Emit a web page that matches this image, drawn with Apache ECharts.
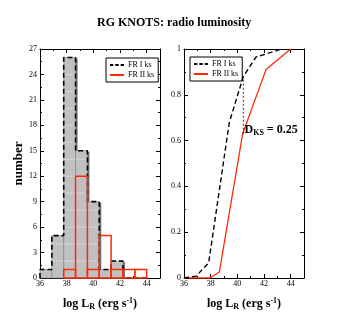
<!DOCTYPE html>
<html><head><meta charset="utf-8">
<script src="https://cdn.jsdelivr.net/npm/echarts@6/dist/echarts.min.js"></script>
<style>html,body{margin:0;padding:0;background:#fff}#c{width:343px;height:327px}</style>
</head><body><div id="c"></div>
<script>
// ---- data ----
const binEdges = [36, 36.889, 37.778, 38.667, 39.556, 40.444, 41.333, 42.222, 43.111, 44];
const fr1Counts = [1, 5, 26, 15, 9, 1, 2, 0, 0];
const fr2Counts = [0, 0, 1, 12, 1, 5, 1, 1, 1];
const fr1CdfX = [36, 36.9, 37.85, 39.4, 40.45, 41.4, 42.8, 43.3];
const fr1CdfY = [0, 0.008, 0.066, 0.68, 0.88, 0.965, 0.99, 1.0];
const fr2CdfX = [36, 37.95, 38.65, 40.4, 42.15, 44];
const fr2CdfY = [0, 0, 0.026, 0.63, 0.91, 1.0];
const ksX = [40.45, 40.45];
const ksY = [0.63, 0.88];
const xTicks = [36, 38, 40, 42, 44];
const leftYTicks = [0, 3, 6, 9, 12, 15, 18, 21, 24, 27];
const rightYTicks = ['0', '0.2', '0.4', '0.6', '0.8', '1'];
const seriesNames = ['FR I ks', 'FR II ks'];

const FONT = 'Liberation Serif';
const RED = '#ff2a0a';

function binItems(counts) {
  return counts.map((c, i) => [binEdges[i], binEdges[i + 1], c]);
}
function stepPoints(counts) {
  const pts = [[binEdges[0], 0]];
  counts.forEach((c, i) => { pts.push([binEdges[i], c]); pts.push([binEdges[i + 1], c]); });
  pts.push([binEdges[binEdges.length - 1], 0]);
  return pts;
}
function zip(xs, ys) { return xs.map((x, i) => [x, ys[i]]); }

const chart = echarts.init(document.getElementById('c'), null, {renderer: 'canvas'});

function xAxisCfg(grid, pos, labels) {
  return {
    type: 'value', gridIndex: grid, position: pos, min: xTicks[0], max: 45, interval: 2,
    axisLine: {show: true, onZero: false, lineStyle: {color: '#000', width: 1}},
    axisTick: {show: true, inside: true, length: 4, lineStyle: {color: '#000'}},
    minorTick: {show: true, splitNumber: 2, length: 2, lineStyle: {color: '#000'}},
    splitLine: {show: false},
    axisLabel: {show: labels, color: '#000', fontFamily: FONT, fontSize: 8, margin: 2,
      formatter: v => xTicks.indexOf(v) >= 0 ? String(v) : ''},
    name: labels ? '{a|log L}{s|R}{a| (erg s}{p|-1}{a|)}' : '',
    nameLocation: 'middle', nameGap: 19,
    nameTextStyle: {
      rich: {
        a: {fontFamily: FONT, fontWeight: 'bold', fontSize: 12, color: '#000', lineHeight: 14},
        s: {fontFamily: FONT, fontWeight: 'bold', fontSize: 8, color: '#000', verticalAlign: 'bottom', lineHeight: 8, padding: [8, 0, 0, 0]},
        p: {fontFamily: FONT, fontWeight: 'bold', fontSize: 8, color: '#000', verticalAlign: 'top', lineHeight: 8, padding: [0, 0, 8, 0]}
      }
    }
  };
}
function yAxisCfg(grid, pos, labels, max, interval, fmt, name) {
  return {
    type: 'value', gridIndex: grid, position: pos, min: 0, max: max, interval: interval,
    axisLine: {show: true, onZero: false, lineStyle: {color: '#000', width: 1}},
    axisTick: {show: true, inside: true, length: 4, lineStyle: {color: '#000'}},
    minorTick: {show: true, splitNumber: 2, length: 2, lineStyle: {color: '#000'}},
    splitLine: {show: false},
    axisLabel: {show: labels, color: '#000', fontFamily: FONT, fontSize: 8, margin: 3, formatter: fmt},
    name: name || '', nameLocation: 'middle', nameGap: 10,
    nameTextStyle: {fontFamily: FONT, fontWeight: 'bold', fontSize: 13, color: '#000'}
  };
}

function grayBars(params, api) {
  const x0 = api.value(0), x1 = api.value(1), c = api.value(2);
  if (!c) return null;
  const p0 = api.coord([x0, c]);
  const p1 = api.coord([x1, 0]);
  const w = p1[0] - p0[0], h = p1[1] - p0[1];
  const children = [
    {type: 'rect', shape: {x: p0[0] + 2, y: p0[1] + 1, width: w, height: h - 1}, style: {fill: '#6e6e6e'}},
    {type: 'rect', shape: {x: p0[0], y: p0[1], width: w, height: h}, style: {fill: '#c0c0c0', stroke: '#8a8a8a', lineWidth: 0.6}}
  ];
  for (let v = 2; v < c; v += 2) {
    const py = api.coord([x0, v])[1];
    children.push({type: 'line', shape: {x1: p0[0] + 1, y1: py, x2: p1[0] - 1, y2: py},
      style: {stroke: '#ffffff', lineWidth: 1, lineDash: [1, 2]}});
  }
  return {type: 'group', children: children};
}
function redBars(params, api) {
  const x0 = api.value(0), x1 = api.value(1), c = api.value(2);
  if (!c) return null;
  const p0 = api.coord([x0, c]);
  const p1 = api.coord([x1, 0]);
  return {type: 'rect', shape: {x: p0[0], y: p0[1], width: p1[0] - p0[0], height: p1[1] - p0[1]},
    style: {fill: 'none', stroke: RED, lineWidth: 1.5}};
}

const dashIcon = 'path://M0,0h5v2h-5z M8,0h5v2h-5z M16,0h5v2h-5z';
const legendCommon = {
  orient: 'vertical', borderColor: '#000', borderWidth: 1, backgroundColor: '#fff',
  padding: [3, 4, 3, 4], itemGap: 2, itemWidth: 14, itemHeight: 2, symbolKeepAspect: false,
  textStyle: {fontFamily: FONT, fontSize: 8, color: '#000', padding: [0, 0, 0, -1]},
  selectedMode: false,
  data: [
    {name: seriesNames[0], icon: dashIcon, itemStyle: {color: '#000'}},
    {name: seriesNames[1], icon: 'rect', itemStyle: {color: RED}}
  ]
};

chart.setOption({
  animation: false,
  backgroundColor: '#fff',
  title: {text: 'RG KNOTS: radio luminosity', left: 92, top: 12,
    textStyle: {fontFamily: FONT, fontWeight: 'bold', fontSize: 12, color: '#000'}},
  legend: [
    Object.assign({}, legendCommon, {left: 106, top: 58}),
    Object.assign({}, legendCommon, {left: 190, top: 57})
  ],
  grid: [
    {left: 40, top: 49, width: 120, height: 229},
    {left: 184, top: 49, width: 120, height: 229}
  ],
  xAxis: [
    xAxisCfg(0, 'bottom', true), xAxisCfg(0, 'top', false),
    xAxisCfg(1, 'bottom', true), xAxisCfg(1, 'top', false)
  ],
  yAxis: [
    yAxisCfg(0, 'left', true, 27, 3, v => leftYTicks.indexOf(v) >= 0 ? String(v) : '', 'number'),
    yAxisCfg(0, 'right', false, 27, 3),
    yAxisCfg(1, 'left', true, 1, 0.2, v => rightYTicks[Math.round(v * 5)]),
    yAxisCfg(1, 'right', false, 1, 0.2)
  ],
  series: [
    {type: 'custom', name: seriesNames[0] + ' bars', xAxisIndex: 0, yAxisIndex: 0,
      renderItem: grayBars, data: binItems(fr1Counts), z: 1, silent: true},
    {type: 'line', name: seriesNames[0], xAxisIndex: 0, yAxisIndex: 0, data: stepPoints(fr1Counts),
      symbol: 'none', lineStyle: {color: '#000', width: 1.6, type: [5, 3]}, z: 3},
    {type: 'custom', name: seriesNames[1], xAxisIndex: 0, yAxisIndex: 0,
      renderItem: redBars, data: binItems(fr2Counts), z: 4, silent: true},
    {type: 'line', name: seriesNames[1], xAxisIndex: 2, yAxisIndex: 2, data: zip(fr2CdfX, fr2CdfY),
      symbol: 'none', lineStyle: {color: RED, width: 1.3}, z: 3},
    {type: 'line', name: seriesNames[0], xAxisIndex: 2, yAxisIndex: 2, data: zip(fr1CdfX, fr1CdfY),
      symbol: 'none', lineStyle: {color: '#000', width: 1.4, type: [5, 3]}, z: 4},
    {type: 'line', name: 'KS', xAxisIndex: 2, yAxisIndex: 2, data: zip(ksX, ksY),
      symbol: 'none', lineStyle: {color: '#000', width: 0.8, type: [2, 2]}, z: 4,
      markPoint: {symbol: 'circle', symbolSize: 1, itemStyle: {color: 'rgba(0,0,0,0)'},
        data: [{coord: [40.5, 0.645], value: 0}],
        label: {show: true, position: 'right', distance: 0, formatter: '{a|D}{s|KS}{a| = 0.25}',
          rich: {
            a: {fontFamily: FONT, fontWeight: 'bold', fontSize: 12, color: '#000', lineHeight: 14},
            s: {fontFamily: FONT, fontWeight: 'bold', fontSize: 8, color: '#000', verticalAlign: 'bottom', lineHeight: 8, padding: [8, 0, 0, 0]}
          }}}}
  ]
});
</script></body></html>
